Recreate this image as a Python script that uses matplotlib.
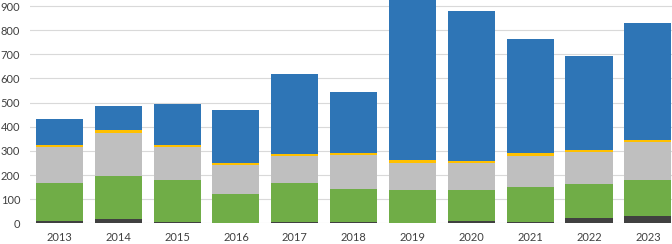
import numpy as np
import matplotlib
matplotlib.use("Agg")
import matplotlib.pyplot as plt

years = ["2013", "2014", "2015", "2016", "2017", "2018", "2019", "2020", "2021", "2022", "2023"]

# stacked segments, bottom to top
dark = [10, 18, 5, 1, 5, 5, 2, 10, 4, 23, 30]
green = [157, 180, 175, 120, 160, 138, 137, 129, 147, 141, 150]
grey = [150, 175, 138, 120, 112, 138, 110, 110, 128, 133, 155]
yellow = [8, 15, 8, 8, 8, 10, 13, 10, 12, 6, 11]
blue = [105, 98, 167, 222, 333, 253, 690, 621, 474, 392, 484]

series = [dark, green, grey, yellow, blue]
colours = ["#404040", "#70AD47", "#BFBFBF", "#FFC000", "#2E75B6"]

plt.rcParams['font.family'] = ['Lato', 'DejaVu Sans']

fig = plt.figure(figsize=(6.72, 2.44), dpi=100)
ax = fig.add_axes([30 / 672, 20.7 / 244, 642 / 672, 223.3 / 244])

x = np.arange(len(years))
bottom = np.zeros(len(years))
for vals, c in zip(series, colours):
    ax.bar(x, vals, width=0.8, bottom=bottom, color=c, zorder=2)
    bottom += np.array(vals)

ax.set_xlim(-0.5, 10.41)
ax.set_ylim(0, 925)
ax.set_yticks(range(0, 901, 100))
ax.set_xticks(x)
ax.set_xticklabels(years)
ax.grid(axis='y', color='#D9D9D9', linewidth=0.8, zorder=0)
for s in ax.spines.values():
    s.set_visible(False)
ax.tick_params(length=0, labelsize=8, colors='#404040')
ax.tick_params(axis='y', pad=7)
ax.tick_params(axis='x', pad=6.5)

fig.savefig("out.png", dpi=100)
